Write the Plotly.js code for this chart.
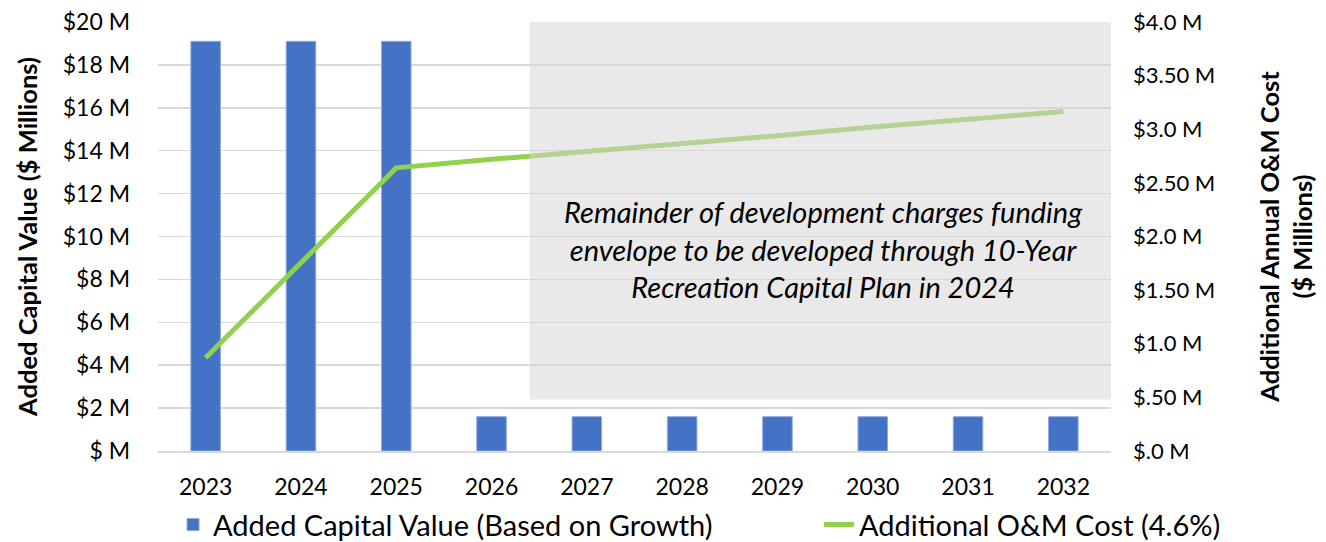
<!DOCTYPE html>
<html>
<head>
<meta charset="utf-8">
<script src="https://cdn.plot.ly/plotly-3.0.1.min.js"></script>
<style>html,body{margin:0;padding:0;background:#fff;}#chart{width:1326px;height:542px;}</style>
</head>
<body>
<div id="chart"></div>
<script>
const years = ["2023","2024","2025","2026","2027","2028","2029","2030","2031","2032"];
const capitalValue = [19.1, 19.1, 19.1, 1.6, 1.6, 1.6, 1.6, 1.6, 1.6, 1.6];
const omCost = [0.87, 1.76, 2.64, 2.72, 2.79, 2.87, 2.94, 3.02, 3.09, 3.165];
const leftTickVals = [0,2,4,6,8,10,12,14,16,18,20];
const leftTickText = ["$ M","$2 M","$4 M","$6 M","$8 M","$10 M","$12 M","$14 M","$16 M","$18 M","$20 M"];
const rightTickVals = [0,0.5,1,1.5,2,2.5,3,3.5,4];
const rightTickText = ["$.0 M","$.50 M","$1.0 M","$1.50 M","$2.0 M","$2.50 M","$3.0 M","$3.50 M","$4.0 M"];
const noteText = "Remainder of development charges funding<br>envelope to be developed through 10-Year<br>Recreation Capital Plan in 2024";

const FONT = "Lato, 'Open Sans', sans-serif";

const traces = [
  {
    type: 'bar', x: years, y: capitalValue, name: 'Added Capital Value (Based on Growth)',
    marker: {color: '#4472c4', line: {color: '#8faadc', width: 1}}, yaxis: 'y', legend: 'legend'
  },
  {
    type: 'scatter', mode: 'lines', x: years, y: omCost, name: 'Additional O&M Cost (4.6%)',
    line: {color: '#92d050', width: 5}, yaxis: 'y2', legend: 'legend2'
  }
];

const legendBase = {orientation: 'h', xref: 'container', yref: 'container', xanchor: 'left',
                    y: 0.032, yanchor: 'middle', font: {size: 29, family: FONT},
                    bgcolor: 'rgba(0,0,0,0)'};

const layout = {
  width: 1326, height: 542,
  margin: {l: 158, r: 215, t: 22, b: 91, autoexpand: false},
  paper_bgcolor: '#ffffff', plot_bgcolor: '#ffffff',
  font: {family: FONT, size: 22, color: '#000'},
  bargap: 0.69,
  showlegend: true,
  legend: Object.assign({}, legendBase, {x: 0.1305}),
  legend2: Object.assign({}, legendBase, {x: 0.6176}),
  xaxis: {type: 'category', showgrid: false, showline: true, linecolor: '#d9d9d9', linewidth: 2,
          ticks: '', ticklabelstandoff: 14, tickfont: {size: 23}, fixedrange: true},
  yaxis: {range: [0, 20], tickvals: leftTickVals, ticktext: leftTickText, showgrid: true,
          gridcolor: '#d9d9d9', gridwidth: 1.5, zeroline: false, showline: false,
          ticks: '', ticklabelstandoff: 27, tickfont: {size: 23},
          title: {text: '<b>Added Capital Value ($ Millions)</b>', font: {size: 25.5}, standoff: 17}},
  yaxis2: {range: [0, 4], overlaying: 'y', side: 'right', tickvals: rightTickVals, ticktext: rightTickText,
           showgrid: false, zeroline: false, showline: false, ticks: '', ticklabelstandoff: 21,
           tickfont: {size: 22},
           title: {text: '<b>Additional Annual O&M Cost<br>($ Millions)</b>', font: {size: 25.5}, standoff: 46}},
  shapes: [
    {type: 'rect', xref: 'x', yref: 'y', x0: 3.4, x1: 9.5, y0: 2.4, y1: 20,
     fillcolor: 'rgba(213,213,213,0.52)', line: {width: 0}, layer: 'above'}
  ],
  annotations: [
    {xref: 'x', yref: 'y', x: 6.48, y: 9.4, text: '<i>' + noteText + '</i>', showarrow: false,
     font: {size: 29, family: FONT, color: '#000'}, align: 'center', xanchor: 'center', yanchor: 'middle'}
  ]
};

Plotly.newPlot('chart', traces, layout, {displayModeBar: false, staticPlot: true});
</script>
</body>
</html>
